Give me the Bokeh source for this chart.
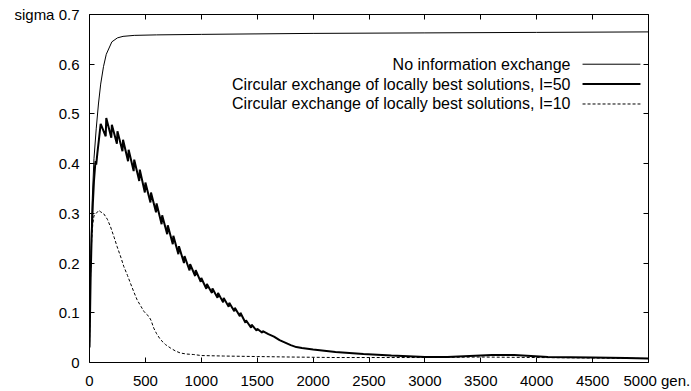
from bokeh.plotting import figure
from bokeh.models import LinearAxis, Label, FixedTicker, Range1d, CustomLabelingPolicy
from bokeh.embed import file_html
from bokeh.resources import INLINE

# ---- data ----
gen_none = [0, 10, 25, 40, 60, 80, 100, 125, 150, 200, 250, 300, 400, 600, 1000,
            2000, 3000, 4000, 5000]
sig_none = [0.03, 0.2, 0.33, 0.41, 0.47, 0.52, 0.56, 0.595, 0.62, 0.645, 0.653,
            0.656, 0.658, 0.659, 0.66, 0.662, 0.663, 0.664, 0.665]

gen_i50 = [0, 10, 20, 30, 40, 50, 55, 60, 70, 85,
           100, 145, 150, 195, 200, 245, 250, 295, 300, 345, 350, 395, 400, 445,
           450, 495, 500, 545, 550, 595, 600, 645, 650, 695, 700, 745, 750, 795,
           800, 845, 850, 895, 900, 945, 950, 995, 1000, 1045, 1050, 1095, 1100,
           1145, 1150, 1195, 1200, 1245, 1250, 1295, 1300, 1345, 1350, 1395, 1400,
           1445, 1450, 1495, 1500, 1545, 1550, 1600, 1650, 1700, 1750, 1800, 1850,
           1900, 2000, 2200, 2450, 2700, 3000, 3200, 3400, 3600, 3800, 3950, 4100,
           4500, 4800, 5000]
sig_i50 = [0.03, 0.17, 0.26, 0.32, 0.365, 0.395, 0.405, 0.398, 0.42, 0.45,
           0.48, 0.455, 0.492, 0.452, 0.478, 0.44, 0.465, 0.425, 0.448, 0.405,
           0.428, 0.385, 0.408, 0.365, 0.388, 0.342, 0.362, 0.322, 0.342, 0.302,
           0.32, 0.278, 0.296, 0.258, 0.276, 0.238, 0.255, 0.218, 0.234, 0.2,
           0.214, 0.185, 0.198, 0.174, 0.186, 0.162, 0.17, 0.148, 0.158, 0.14,
           0.149, 0.13, 0.14, 0.121, 0.13, 0.112, 0.12, 0.103, 0.11, 0.093,
           0.1, 0.08, 0.085, 0.07, 0.076, 0.064, 0.068, 0.06, 0.063, 0.057,
           0.052, 0.045, 0.04, 0.035, 0.031, 0.029, 0.026, 0.021, 0.017, 0.014,
           0.011, 0.011, 0.013, 0.015, 0.015, 0.013, 0.011, 0.01, 0.009, 0.008]

gen_i10 = [0, 10, 20, 30, 40, 60, 83, 100, 128, 160, 188, 220, 247, 280, 307, 340,
           367, 400, 426, 460, 486, 510, 530, 550, 575, 600, 635, 680, 725, 770,
           814, 870, 933, 1000, 1200, 1500, 1800, 2200, 2600, 3000, 3500, 4000,
           4500, 5000]
sig_i10 = [0.03, 0.18, 0.25, 0.28, 0.295, 0.3, 0.306, 0.303, 0.299, 0.288, 0.273,
           0.252, 0.233, 0.212, 0.193, 0.175, 0.159, 0.14, 0.126, 0.113, 0.103,
           0.097, 0.093, 0.085, 0.069, 0.058, 0.046, 0.036, 0.029, 0.023, 0.019,
           0.017, 0.016, 0.014, 0.013, 0.012, 0.011, 0.01, 0.01, 0.01, 0.011,
           0.01, 0.009, 0.008]

legend_labels = ["No information exchange",
                 "Circular exchange of locally best solutions, I=50",
                 "Circular exchange of locally best solutions, I=10"]
x_ticks = [0, 500, 1000, 1500, 2000, 2500, 3000, 3500, 4000, 4500, 5000]
y_ticks = [0, 0.1, 0.2, 0.3, 0.4, 0.5, 0.6, 0.7]
x_unit = "gen."
y_unit = "sigma"

FONT = "Liberation Sans"
FS = "16px"
TFS = "15px"

p = figure(width=691, height=391, output_backend="svg", toolbar_location=None,
           x_range=Range1d(0, 5000), y_range=Range1d(0, 0.7),
           min_border_left=89, min_border_right=43, min_border_top=14,
           min_border_bottom=28, x_axis_type=None, y_axis_type=None)
p.xgrid.visible = False
p.ygrid.visible = False
p.outline_line_color = "black"
p.outline_line_width = 1
p.outline_line_alpha = 1.0

no_labels = CustomLabelingPolicy(
    code="for (const i of Array.from(indices)) { indices.unset(i) } return indices")


def mk_axis(labels=True):
    ax = LinearAxis()
    ax.axis_line_color = None
    ax.major_tick_in = 5
    ax.major_tick_out = 0
    ax.major_tick_line_color = "black"
    ax.minor_tick_line_color = None
    ax.major_label_text_font = FONT
    ax.major_label_text_color = "black"
    ax.major_label_text_font_size = TFS
    if not labels:
        ax.major_label_policy = no_labels
        ax.major_label_standoff = 0
    return ax


NB = "\u00a0"
xb = mk_axis()
xb.ticker = FixedTicker(ticks=x_ticks)
xb.major_label_standoff = 9
xb.major_label_overrides = {5000: NB * 4 + "5000 " + x_unit}
p.add_layout(xb, "below")
xt = mk_axis(False)
xt.ticker = FixedTicker(ticks=x_ticks)
p.add_layout(xt, "above")

yl = mk_axis()
yl.ticker = FixedTicker(ticks=y_ticks)
yl.major_label_standoff = 10
yl.major_label_overrides = {0: "0", 0.7: y_unit + " 0.7"}
p.add_layout(yl, "left")
yr = mk_axis(False)
yr.ticker = FixedTicker(ticks=y_ticks)
p.add_layout(yr, "right")

p.line(gen_none, sig_none, line_color="black", line_width=1)
p.line(gen_i50, sig_i50, line_color="black", line_width=2)
p.line(gen_i10, sig_i10, line_color="black", line_width=1, line_dash="3 2")

# gnuplot-style key: text right-aligned, line sample on the right
key_y = [0.6, 0.56, 0.52]
styles = [dict(line_width=1), dict(line_width=2), dict(line_width=1, line_dash="3 2")]
for lab, ky, st in zip(legend_labels, key_y, styles):
    p.add_layout(Label(x=4302, y=ky, text=lab, text_align="right",
                       text_baseline="middle", text_font=FONT,
                       text_font_size=FS, text_color="black"))
    p.line([4410, 4928], [ky, ky], line_color="black", **st)

open("out.html", "w").write(file_html(p, INLINE))
